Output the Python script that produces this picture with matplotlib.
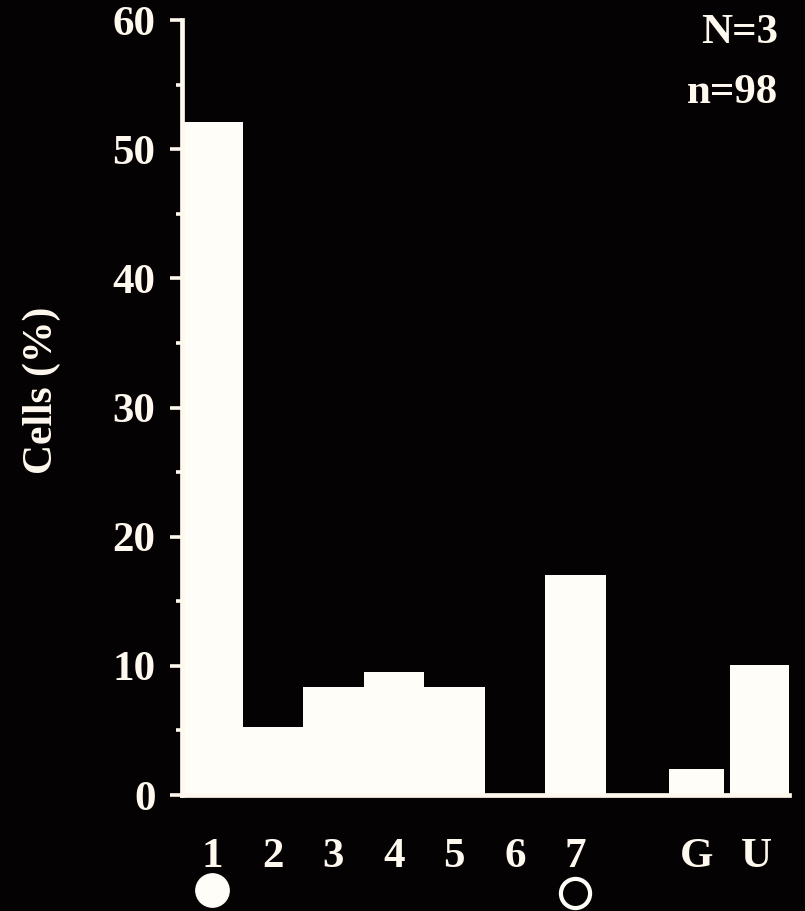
import matplotlib
matplotlib.use("Agg")
import matplotlib.pyplot as plt
import matplotlib.transforms as mtransforms
from matplotlib.ticker import MultipleLocator

categories = ["1", "2", "3", "4", "5", "6", "7", "G", "U"]
positions = [0, 1, 2, 3, 4, 5, 6, 8, 9.05]
values = [52.1, 5.3, 8.4, 9.5, 8.4, 0.0, 17.0, 2.0, 10.1]
widths = [1.0, 1.0, 1.0, 1.0, 1.0, 1.0, 1.0, 0.91, 0.98]
annot_lines = ["N=3", "n=98"]
ylabel = "Cells (%)"

BG = "#050203"
FG = "#fff8ee"
BAR = "#fffdf8"
FONT = ["Liberation Serif", "DejaVu Serif"]

fig = plt.figure(figsize=(8.05, 9.11), dpi=100, facecolor=BG)
ax = fig.add_axes([182/805, 116/911, 607/805, 775/911], facecolor=BG)

ax.bar(positions, values, width=widths, color=BAR, edgecolor="none",
       linewidth=0, align="center")

ax.set_xlim(-0.5, 9.53)
ax.set_ylim(0, 60)

for s in ["top", "right"]:
    ax.spines[s].set_visible(False)
for s in ["left", "bottom"]:
    ax.spines[s].set_color(FG)
    ax.spines[s].set_linewidth(3.4)

ax.yaxis.set_major_locator(MultipleLocator(10))
ax.yaxis.set_minor_locator(MultipleLocator(5))
ax.tick_params(axis="y", which="major", length=9, width=2.6, color=FG, pad=10,
               labelcolor=FG, labelsize=31)
ax.tick_params(axis="y", which="minor", length=4, width=2.6, color=FG)
for lab in ax.get_yticklabels():
    lab.set_fontfamily(FONT)
    lab.set_fontweight("bold")

ax.set_xticks([0, 1, 2, 3, 4, 5, 6, 8, 9])
ax.set_xticklabels(categories, fontfamily=FONT, fontweight="bold")
ax.tick_params(axis="x", length=0, pad=31, labelcolor=FG, labelsize=31)

fig.text(42/805, (911-390)/911, ylabel, rotation=90, ha="center", va="center",
         family=FONT, fontsize=30, fontweight="bold", color=FG)

trans = mtransforms.blended_transform_factory(ax.transData, ax.transAxes)
ax.plot([0], [-0.122], marker="o", markersize=24, color=BAR, markeredgecolor=BAR,
        transform=trans, clip_on=False)
ax.plot([6], [-0.126], marker="o", markersize=21, markerfacecolor="none",
        markeredgecolor=BAR, markeredgewidth=3, transform=trans, clip_on=False)

fig.text(778/805, (911-43)/911, annot_lines[0], ha="right", va="baseline",
         fontsize=31, fontweight="bold", family=FONT, color=FG)
fig.text(778/805, (911-103)/911, annot_lines[1], ha="right", va="baseline",
         fontsize=31, fontweight="bold", family=FONT, color=FG)

fig.savefig("out.png", dpi=100, facecolor=BG)
